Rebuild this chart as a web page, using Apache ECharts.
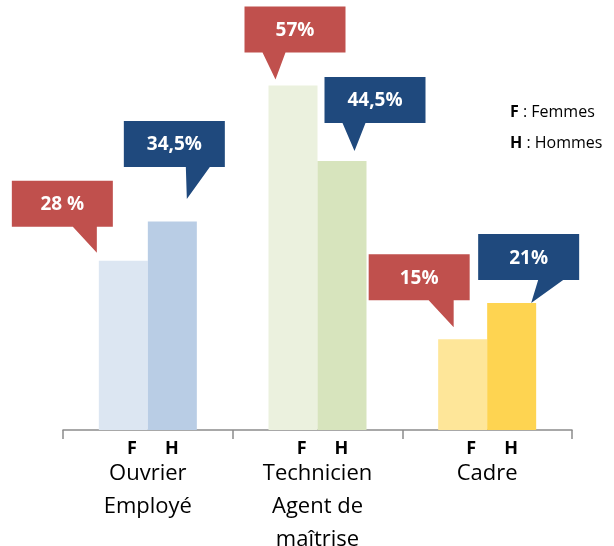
<!DOCTYPE html>
<html>
<head>
<meta charset="utf-8">
<script src="https://cdn.jsdelivr.net/npm/echarts@6/dist/echarts.min.js"></script>
<style>html,body{margin:0;padding:0;background:#fff}#main{width:614px;height:546px}</style>
</head>
<body>
<div id="main"></div>
<script>
var categories = ['Ouvrier\nEmployé', 'Technicien\nAgent de\nmaîtrise', 'Cadre'];
var femmes = [28, 57, 15];
var hommes = [34.5, 44.5, 21];
var femmesLabels = ['28 %', '57%', '15%'];
var hommesLabels = ['34,5%', '44,5%', '21%'];

var femmesColors = ['#dce6f2', '#ebf1de', '#fee699'];
var hommesColors = ['#b9cde5', '#d7e4bd', '#fed451'];

// bulles : [dx, dy] pointe / sommet barre, [gauche, bas] boite / pointe, [queueA, queueB]
var femmesBulles = [[-26.5, -8, -85, -26, -24, 0], [-17.5, -6, -31, -27, -13, 10], [-9, -12, -85, -27, -25, 0]];
var hommesBulles = [[14.5, -22.6, -63, -32, -1, 23], [12.5, -10, -30, -28, -12, 11], [19.5, 0, -53, -23, 7, 32]];

var barW = 49;
var myChart = echarts.init(document.getElementById('main'));

function bulle(labels, layout, color, shift) {
    return function (params, api) {
        var i = api.value(0);
        var p = api.coord([i, api.value(1)]);
        var L = layout[i];
        var tx = p[0] + shift + L[0], ty = p[1] + L[1];
        var l = tx + L[2], r = l + 101, b = ty + L[3], t = b - 46;
        return {
            type: 'group',
            children: [{
                type: 'polygon',
                shape: { points: [[l, t], [r, t], [r, b], [tx + L[5], b], [tx, ty], [tx + L[4], b], [l, b]] },
                style: { fill: color }
            }, {
                type: 'text',
                style: {
                    text: labels[i], x: (l + r) / 2, y: (t + b) / 2 + 1,
                    align: 'center', verticalAlign: 'middle', fill: '#fff',
                    fontSize: 19, fontWeight: 'bold', fontFamily: 'Open Sans'
                }
            }]
        };
    };
}

function items(vals, colors) {
    return vals.map(function (v, i) { return { value: v, itemStyle: { color: colors[i] } }; });
}
function points(vals) {
    return vals.map(function (v, i) { return [i, v]; });
}

var option = {
    animation: false,
    grid: { left: 63, right: 42, top: 7, bottom: 116, outerBoundsMode: 'none', containLabel: false },
    xAxis: {
        type: 'category',
        data: categories,
        axisLine: { lineStyle: { color: '#8c8c8c', width: 1.5 } },
        axisTick: { show: true, alignWithLabel: false, inside: false, length: 9, lineStyle: { color: '#8c8c8c', width: 1.5 } },
        axisLabel: {
            margin: 11,
            interval: 0,
            formatter: function (v) {
                return '{fh|F      H}\n{n|' + v.split('\n').join('}\n{n|') + '}';
            },
            rich: {
                fh: { fontSize: 18, fontWeight: 'bold', fontFamily: 'Open Sans', color: '#000', lineHeight: 16, padding: [0, 0, 0, 10] },
                n: { fontSize: 22, fontFamily: 'Open Sans', color: '#000', lineHeight: 33 }
            }
        }
    },
    yAxis: { type: 'value', min: 0, max: 70, show: false, splitLine: { show: false } },
    series: [
        { name: 'F', type: 'bar', barWidth: barW, barGap: 0, data: items(femmes, femmesColors) },
        { name: 'H', type: 'bar', barWidth: barW, barGap: 0, data: items(hommes, hommesColors) },
        { type: 'custom', z: 5, clip: false, data: points(femmes), encode: { x: 0, y: 1 },
          renderItem: bulle(femmesLabels, femmesBulles, '#c0504d', -barW / 2) },
        { type: 'custom', z: 5, clip: false, data: points(hommes), encode: { x: 0, y: 1 },
          renderItem: bulle(hommesLabels, hommesBulles, '#1f497d', barW / 2) }
    ],
    graphic: [
        { type: 'text', left: 510, top: 104,
          style: { text: '{b|F} : Femmes', fontSize: 16, fontFamily: 'Open Sans', fill: '#000',
                   rich: { b: { fontSize: 16, fontFamily: 'Open Sans', fontWeight: 'bold' } } } },
        { type: 'text', left: 510, top: 135,
          style: { text: '{b|H} : Hommes', fontSize: 16, fontFamily: 'Open Sans', fill: '#000',
                   rich: { b: { fontSize: 16, fontFamily: 'Open Sans', fontWeight: 'bold' } } } }
    ]
};
myChart.setOption(option);
</script>
</body>
</html>
